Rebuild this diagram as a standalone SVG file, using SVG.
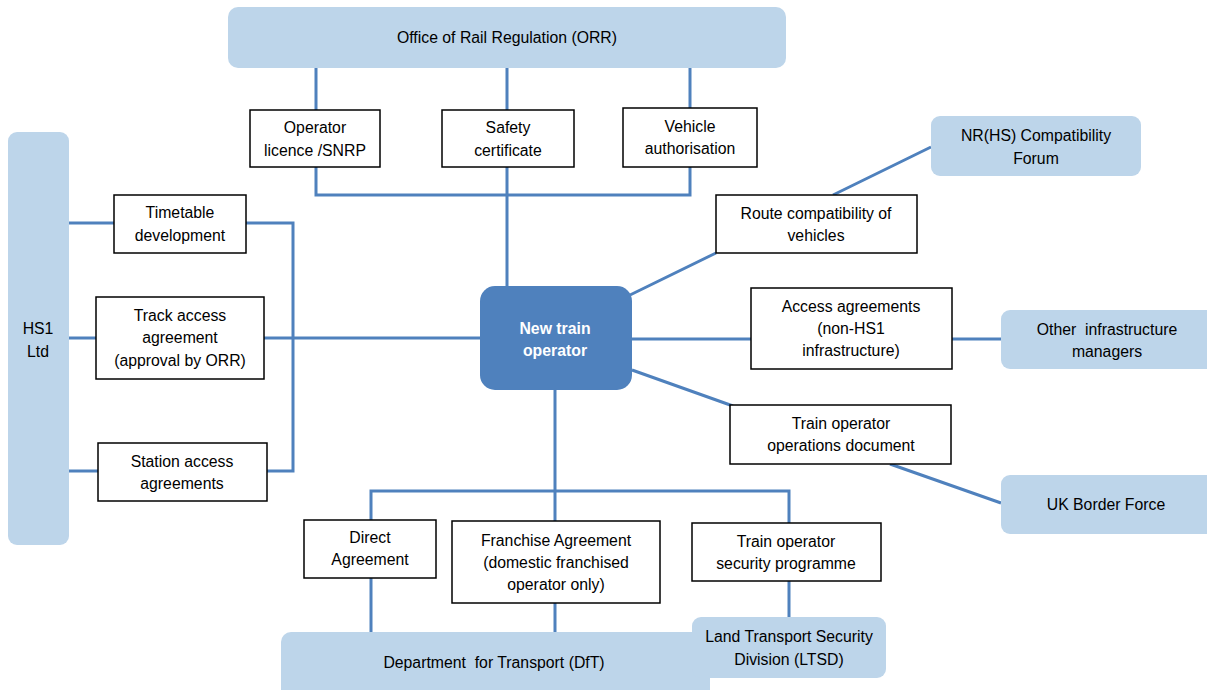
<svg xmlns="http://www.w3.org/2000/svg" width="1207" height="690" viewBox="0 0 1207 690">
<style>
.ext{fill:#BDD5EA;}
.box{fill:#fff;stroke:#000;stroke-width:1.5;}
.core{fill:#4F81BD;}
.t{font-family:"Liberation Sans",Arial,sans-serif;font-size:15.8px;fill:#000;text-anchor:middle;}
.tw{font-family:"Liberation Sans",Arial,sans-serif;font-size:15.8px;font-weight:bold;fill:#fff;text-anchor:middle;}
.c{fill:none;stroke:#4F81BD;stroke-width:3;}
</style>
<rect width="1207" height="690" fill="#fff"/>
<g id="connectors">
<path class="c" d="M316 68V110M507 68V110M690 68V108"/>
<path class="c" d="M316 167V195H690V167M507 167V287"/>
<path class="c" d="M69 223H114M246 223H293V471H267M69 471H98M69 338H96M264 338H480"/>
<path class="c" d="M630 295L716 253M833 195L931 147"/>
<path class="c" d="M632 339H751M952 339H1001"/>
<path class="c" d="M632 370L733 406M890 464L1001 503"/>
<path class="c" d="M555 390V521M371 520V491H789V523"/>
<path class="c" d="M371 578V632M555 603V632M789 581V617"/>
</g>
<g id="orr"><rect class="ext" x="228" y="7" width="558" height="61" rx="10"/><text class="t" x="507" y="43">Office of Rail Regulation (ORR)</text></g>
<g id="licence"><rect class="box" x="250" y="110" width="130" height="57"/><text class="t" x="315" y="133">Operator</text><text class="t" x="315" y="156">licence /SNRP</text></g>
<g id="safety"><rect class="box" x="442" y="110" width="132" height="57"/><text class="t" x="508" y="133">Safety</text><text class="t" x="508" y="156">certificate</text></g>
<g id="vehicle"><rect class="box" x="623" y="108" width="134" height="59"/><text class="t" x="690" y="132">Vehicle</text><text class="t" x="690" y="154">authorisation</text></g>
<g id="nrhs"><rect class="ext" x="931" y="116" width="210" height="60" rx="9"/><text class="t" x="1036" y="141">NR(HS) Compatibility</text><text class="t" x="1036" y="164">Forum</text></g>
<g id="hs1"><rect class="ext" x="8" y="132" width="61" height="413" rx="9"/><text class="t" x="38" y="334">HS1</text><text class="t" x="38" y="357">Ltd</text></g>
<g id="timetable"><rect class="box" x="114" y="195" width="132" height="58"/><text class="t" x="180" y="218">Timetable</text><text class="t" x="180" y="241">development</text></g>
<g id="route"><rect class="box" x="716" y="195" width="201" height="58"/><text class="t" x="816" y="219">Route compatibility of</text><text class="t" x="816" y="241">vehicles</text></g>
<g id="track"><rect class="box" x="96" y="297" width="168" height="82"/><text class="t" x="180" y="321">Track access</text><text class="t" x="180" y="343">agreement</text><text class="t" x="180" y="366">(approval by ORR)</text></g>
<g id="newop"><rect class="core" x="480" y="286" width="152" height="104" rx="15"/><text class="tw" x="555" y="334">New train</text><text class="tw" x="555" y="356">operator</text></g>
<g id="access"><rect class="box" x="751" y="288" width="201" height="81"/><text class="t" x="851" y="312">Access agreements</text><text class="t" x="851" y="334">(non-HS1</text><text class="t" x="851" y="356">infrastructure)</text></g>
<g id="otherim"><rect class="ext" x="1001" y="310" width="215" height="59" rx="9"/><text class="t" x="1107" y="335" xml:space="preserve">Other  infrastructure</text><text class="t" x="1107" y="357">managers</text></g>
<g id="opsdoc"><rect class="box" x="730" y="405" width="221" height="59"/><text class="t" x="841" y="429">Train operator</text><text class="t" x="841" y="451">operations document</text></g>
<g id="station"><rect class="box" x="98" y="443" width="169" height="58"/><text class="t" x="182" y="467">Station access</text><text class="t" x="182" y="489">agreements</text></g>
<g id="ukbf"><rect class="ext" x="1001" y="475" width="215" height="59" rx="9"/><text class="t" x="1106" y="510">UK Border Force</text></g>
<g id="direct"><rect class="box" x="304" y="520" width="132" height="58"/><text class="t" x="370" y="543">Direct</text><text class="t" x="370" y="565">Agreement</text></g>
<g id="franchise"><rect class="box" x="452" y="521" width="208" height="82"/><text class="t" x="556" y="546">Franchise Agreement</text><text class="t" x="556" y="568">(domestic franchised</text><text class="t" x="556" y="590">operator only)</text></g>
<g id="security"><rect class="box" x="692" y="523" width="189" height="58"/><text class="t" x="786" y="547">Train operator</text><text class="t" x="786" y="569">security programme</text></g>
<g id="dft"><rect class="ext" x="281" y="632" width="429" height="70" rx="10"/><text class="t" x="494" y="668" xml:space="preserve">Department  for Transport (DfT)</text></g>
<g id="ltsd"><rect class="ext" x="692" y="617" width="194" height="61" rx="9"/><text class="t" x="789" y="642">Land Transport Security</text><text class="t" x="789" y="665">Division (LTSD)</text></g>
</svg>
